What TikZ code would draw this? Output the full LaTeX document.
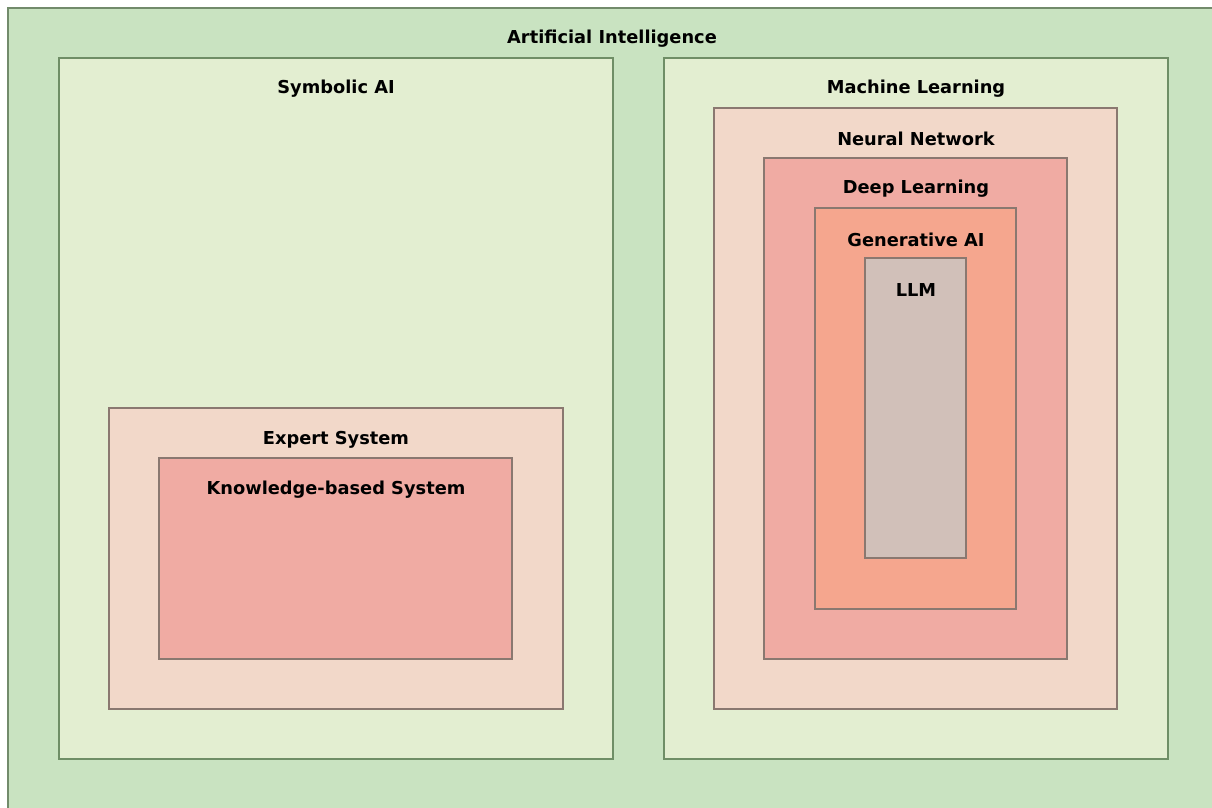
\documentclass[tikz,border=0pt]{standalone}
\usepackage{fontspec}
\setmainfont{DejaVu Sans}
\definecolor{aiFill}{HTML}{C9E3C1}
\definecolor{lvOne}{HTML}{E3EED1}
\definecolor{lvTwo}{HTML}{F2D8C9}
\definecolor{lvThree}{HTML}{F0ABA3}
\definecolor{lvFour}{HTML}{F5A68E}
\definecolor{lvFive}{HTML}{D1C0B9}
\definecolor{edgeGreen}{HTML}{6F8E66}
\definecolor{edgeBrown}{HTML}{8A7870}
\tikzset{
  layer/.style={draw=#1, line width=1.4pt},
  lbl/.style={font=\bfseries\fontsize{17.8}{20}\selectfont, text=black, anchor=center},
}
\begin{document}
\begin{tikzpicture}[x=1pt,y=-1pt]
\useasboundingbox (0,0) rectangle (1212,807);
% outermost area
\path[fill=white] (0,0) rectangle (1212,807);
\draw[layer=edgeGreen!80!gray, fill=aiFill] (8,8) rectangle (1216,811);
\node[lbl] (ai) at (612,39) {Artificial Intelligence};
% symbolic branch
\draw[layer=edgeGreen, fill=lvOne] (59,58) rectangle (613,759);
\node[lbl] (sym) at (336,89) {Symbolic AI};
\draw[layer=edgeBrown, fill=lvTwo] (109,408) rectangle (563,709);
\node[lbl] (exp) at (336,440) {Expert System};
\draw[layer=edgeBrown, fill=lvThree] (159,458) rectangle (512,659);
\node[lbl] (kbs) at (336,490) {Knowledge-based System};
% learning branch
\draw[layer=edgeGreen, fill=lvOne] (664,58) rectangle (1168,759);
\node[lbl] (ml) at (916,89) {Machine Learning};
\draw[layer=edgeBrown, fill=lvTwo] (714,108) rectangle (1117,709);
\node[lbl] (nn) at (916,139) {Neural Network};
\draw[layer=edgeBrown, fill=lvThree] (764,158) rectangle (1067,659);
\node[lbl] (dl) at (916,189) {Deep Learning};
\draw[layer=edgeBrown, fill=lvFour] (815,208) rectangle (1016,609);
\node[lbl] (gen) at (916,240) {Generative AI};
\draw[layer=edgeBrown, fill=lvFive] (865,258) rectangle (966,558);
\node[lbl] (llm) at (916,290) {LLM};
\end{tikzpicture}
\end{document}
